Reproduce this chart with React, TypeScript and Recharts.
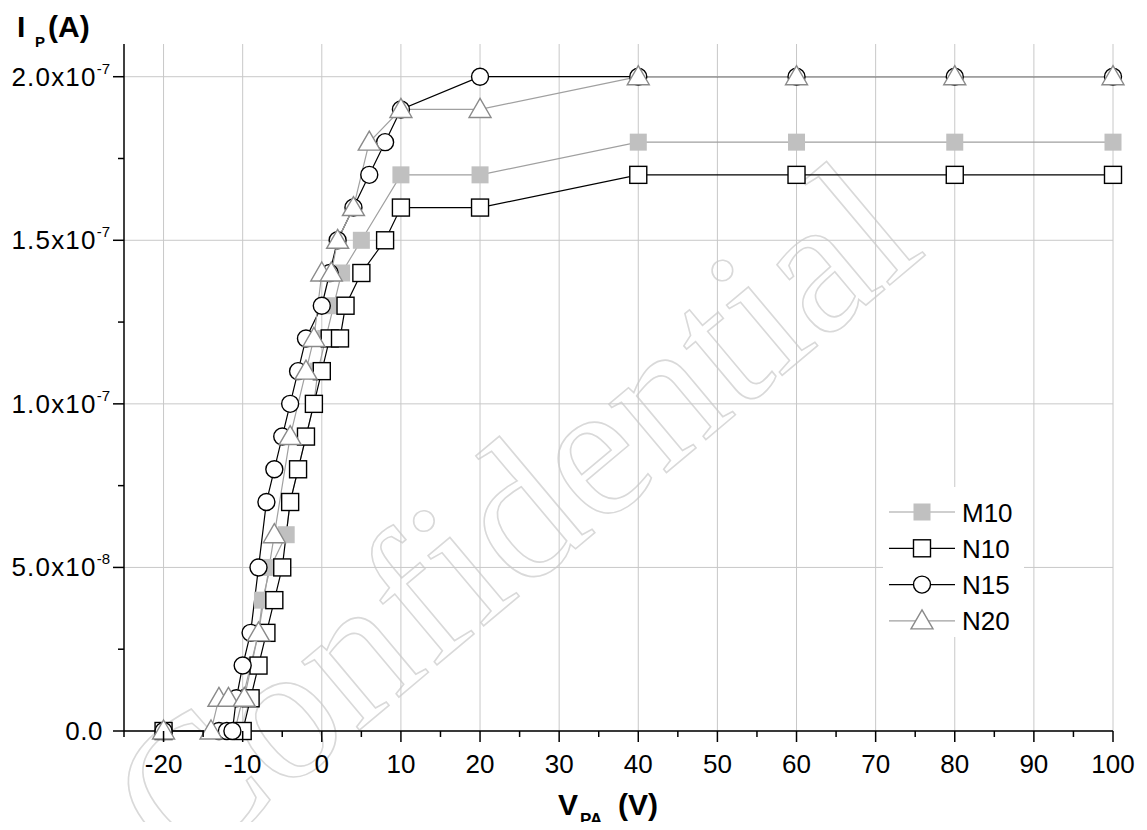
import React from 'react';
import { LineChart, Line, XAxis, YAxis, CartesianGrid } from 'recharts';

// ---- data (x in V, y in A) ----
const m10X = [-20, -11, -10, -9, -8, -7.5, -6.5, -4.5, -4, -3, -2, -1, -0.5, 0.5, 1.5, 2.5, 5, 10, 20, 40, 60, 80, 100];
const m10Y = [0, 0, 1e-8, 2e-8, 3e-8, 4e-8, 5e-8, 6e-8, 7e-8, 8e-8, 9e-8, 1.0e-7, 1.1e-7, 1.2e-7, 1.3e-7, 1.4e-7, 1.5e-7, 1.7e-7, 1.7e-7, 1.8e-7, 1.8e-7, 1.8e-7, 1.8e-7];

const n10X = [-20, -10, -9, -8, -7, -6, -5, -4, -3, -2, -1, 0, 1, 2.3, 3, 5, 8, 10, 20, 40, 60, 80, 100];
const n10Y = [0, 0, 1e-8, 2e-8, 3e-8, 4e-8, 5e-8, 7e-8, 8e-8, 9e-8, 1.0e-7, 1.1e-7, 1.2e-7, 1.2e-7, 1.3e-7, 1.4e-7, 1.5e-7, 1.6e-7, 1.6e-7, 1.7e-7, 1.7e-7, 1.7e-7, 1.7e-7];

const n15X = [-20, -13, -12, -11.3, -10.8, -10, -9, -8, -7, -6, -5, -4, -3, -2, 0, 1, 2, 4, 6, 8, 10, 20, 40, 60, 80, 100];
const n15Y = [0, 0, 0, 0, 1e-8, 2e-8, 3e-8, 5e-8, 7e-8, 8e-8, 9e-8, 1.0e-7, 1.1e-7, 1.2e-7, 1.3e-7, 1.4e-7, 1.5e-7, 1.6e-7, 1.7e-7, 1.8e-7, 1.9e-7, 2.0e-7, 2.0e-7, 2.0e-7, 2.0e-7, 2.0e-7];

const n20X = [-20, -14, -13, -11.8, -9.8, -8, -6, -4, -2, -1, 0, 1.2, 2, 4, 6, 10, 20, 40, 60, 80, 100];
const n20Y = [0, 0, 1e-8, 1e-8, 1e-8, 3e-8, 6e-8, 9e-8, 1.1e-7, 1.2e-7, 1.4e-7, 1.4e-7, 1.5e-7, 1.6e-7, 1.8e-7, 1.9e-7, 1.9e-7, 2.0e-7, 2.0e-7, 2.0e-7, 2.0e-7];

const xTicks = [-25, -20, -15, -10, -5, 0, 5, 10, 15, 20, 25, 30, 35, 40, 45, 50, 55, 60, 65, 70, 75, 80, 85, 90, 95, 100];
const xMajor = [-20, -10, 0, 10, 20, 30, 40, 50, 60, 70, 80, 90, 100];
const yTicks = [0, 2.5e-8, 5e-8, 7.5e-8, 1e-7, 1.25e-7, 1.5e-7, 1.75e-7, 2e-7];
const yMajor = [0, 5e-8, 1e-7, 1.5e-7, 2e-7];
const yMantissa = ['0.0', '5.0x10', '1.0x10', '1.5x10', '2.0x10'];
const yExponent = ['', '-8', '-7', '-7', '-7'];

const legendNames = ['M10', 'N10', 'N15', 'N20'];

const toPts = (xs: number[], ys: number[]) => xs.map((x, i) => ({ x, y: ys[i] }));
const m10 = toPts(m10X, m10Y);
const n10 = toPts(n10X, n10Y);
const n15 = toPts(n15X, n15Y);
const n20 = toPts(n20X, n20Y);

const FONT = '"Liberation Sans", Arial, Helvetica, sans-serif';
const W = 1131;
const H = 814;
const GRAY_LINE = '#a0a0a0';
const GRAY_FILL = '#c0c0c0';
const TRI_STROKE = '#8a8a8a';

const isMajor = (arr: number[], v: number) => arr.some((m) => Math.abs(m - v) < 1e-12);

// ---- marker shapes ----
const FilledSquare = ({ cx, cy }: { cx: number; cy: number }) => (
  <rect x={cx - 8.5} y={cy - 8.5} width={17} height={17} fill={GRAY_FILL} stroke="none" />
);
const OpenSquare = ({ cx, cy }: { cx: number; cy: number }) => (
  <rect x={cx - 8.5} y={cy - 8.5} width={17} height={17} fill="#fff" stroke="#000" strokeWidth={1.4} />
);
const OpenCircle = ({ cx, cy }: { cx: number; cy: number }) => (
  <circle cx={cx} cy={cy} r={8.5} fill="#fff" stroke="#000" strokeWidth={1.4} />
);
const OpenTriangle = ({ cx, cy }: { cx: number; cy: number }) => (
  <path d={`M${cx},${cy - 11} L${cx + 11},${cy + 8} L${cx - 11},${cy + 8} Z`} fill="#fff" stroke={TRI_STROKE} strokeWidth={1.4} />
);

const dotFn = (Shape: any) => (props: any) => {
  const { cx, cy, index } = props;
  if (cx == null || cy == null) return <g key={`d${index}`} />;
  return (
    <g key={`d${index}`}>
      <Shape cx={cx} cy={cy} />
    </g>
  );
};

// ---- axis ticks ----
const BottomTick = (props: any) => {
  const { x, y, payload } = props;
  const v = payload.value;
  const major = isMajor(xMajor, v);
  return (
    <g>
      <line x1={x} y1={y} x2={x} y2={y + (major ? 11 : 6)} stroke="#000" strokeWidth={1.5} />
      {major && (
        <text x={x} y={y + 42} textAnchor="middle" fontSize={26} fontFamily={FONT} fill="#000">
          {v}
        </text>
      )}
    </g>
  );
};

const TopTick = (props: any) => {
  const { x, y, payload } = props;
  const major = isMajor(xMajor, payload.value);
  return <line x1={x} y1={y} x2={x} y2={y + (major ? 11 : 6)} stroke="#000" strokeWidth={1.5} />;
};

const LeftTick = (props: any) => {
  const { x, y, payload } = props;
  const v = payload.value;
  const idx = yMajor.findIndex((m) => Math.abs(m - v) < 1e-12);
  const major = idx >= 0;
  return (
    <g>
      <line x1={x} y1={y} x2={x - (major ? 11 : 6)} y2={y} stroke="#000" strokeWidth={1.5} />
      {major && (
        <text
          x={yExponent[idx] ? x - 14 : x - 21}
          y={y + 9}
          textAnchor="end"
          fontSize={26}
          fontFamily={FONT}
          fill="#000"
        >
          <tspan letterSpacing={yExponent[idx] ? 1.2 : 0.5}>{yMantissa[idx]}</tspan>
          {yExponent[idx] && (
            <tspan fontSize={15} dy={-12}>
              {yExponent[idx]}
            </tspan>
          )}
        </text>
      )}
    </g>
  );
};

const RightTick = (props: any) => {
  const { x, y, payload } = props;
  const major = isMajor(yMajor, payload.value);
  return <line x1={x} y1={y} x2={x - (major ? 11 : 6)} y2={y} stroke="#000" strokeWidth={1.5} />;
};

const legendShapes = [FilledSquare, OpenSquare, OpenCircle, OpenTriangle];
const legendLineColors = [GRAY_LINE, '#000', '#000', GRAY_LINE];

export default function App() {
  return (
    <div style={{ position: 'relative', width: W, height: H, background: '#fff' }}>
      {/* background: watermark + axis titles */}
      <svg width={W} height={H + 8} style={{ position: 'absolute', left: 0, top: 0, zIndex: 0, overflow: 'visible' }}>
        <text
          x={547}
          y={558}
          transform="rotate(-40 547 558)"
          textAnchor="middle"
          fontFamily='"Liberation Serif", "DejaVu Serif", serif'
          fontSize={195}
          fill="none"
          stroke="#d9d9d9"
          strokeWidth={1.6}
        >
          Confidential
        </text>
        <g fontFamily={FONT} fontWeight="bold" fill="#000">
          <text x={9} y={29} fontSize={30}>I</text>
          <text x={27} y={39} fontSize={15}>P</text>
          <text x={40} y={29} fontSize={30}>(A)</text>
          <text x={550} y={807} fontSize={30}>V</text>
          <text x={572} y={817} fontSize={17}>PA</text>
          <text x={610} y={807} fontSize={30}>(V)</text>
        </g>
      </svg>
      <div style={{ position: 'absolute', left: 0, top: 0, zIndex: 1 }}>
        <LineChart width={W} height={H} margin={{ top: 36, right: 26, bottom: 31, left: 16 }}>
          <CartesianGrid
            xAxisId="b"
            yAxisId="l"
            stroke="#c8c8c8"
            strokeWidth={1}
            verticalValues={xMajor}
            horizontalValues={yMajor}
          />
          <XAxis
            xAxisId="b"
            dataKey="x"
            type="number"
            domain={[-25, 100]}
            ticks={xTicks}
            interval={0}
            height={60}
            tickSize={0}
            tickMargin={0}
            tickLine={false}
            tick={<BottomTick />}
            axisLine={{ stroke: '#000', strokeWidth: 1.5 }}
          />
          <XAxis
            xAxisId="t"
            orientation="top"
            type="number"
            dataKey="x"
            domain={[-25, 100]}
            ticks={xTicks}
            interval={0}
            height={0}
            tickSize={0}
            tickMargin={0}
            tickLine={false}
            tick={<TopTick />}
            axisLine={{ stroke: '#000', strokeWidth: 1.5 }}
            allowDataOverflow
          />
          <YAxis
            yAxisId="l"
            type="number"
            domain={[0, 2.1e-7]}
            ticks={yTicks}
            interval={0}
            width={100}
            tickSize={0}
            tickMargin={0}
            tickLine={false}
            tick={<LeftTick />}
            axisLine={{ stroke: '#000', strokeWidth: 1.5 }}
          />
          <YAxis
            yAxisId="r"
            orientation="right"
            type="number"
            domain={[0, 2.1e-7]}
            ticks={yTicks}
            interval={0}
            width={0}
            tickSize={0}
            tickMargin={0}
            tickLine={false}
            tick={<RightTick />}
            axisLine={{ stroke: '#000', strokeWidth: 1.5 }}
            allowDataOverflow
          />
          <Line data={m10} xAxisId="b" yAxisId="l" dataKey="y" name="M10" stroke={GRAY_LINE} strokeWidth={1.2} dot={dotFn(FilledSquare)} activeDot={false} isAnimationActive={false} />
          <Line data={n10} xAxisId="b" yAxisId="l" dataKey="y" name="N10" stroke="#000" strokeWidth={1.2} dot={dotFn(OpenSquare)} activeDot={false} isAnimationActive={false} />
          <Line data={n15} xAxisId="b" yAxisId="l" dataKey="y" name="N15" stroke="#000" strokeWidth={1.2} dot={dotFn(OpenCircle)} activeDot={false} isAnimationActive={false} />
          <Line data={n20} xAxisId="b" yAxisId="l" dataKey="y" name="N20" stroke={GRAY_LINE} strokeWidth={1.2} dot={dotFn(OpenTriangle)} activeDot={false} isAnimationActive={false} />
        </LineChart>
      </div>
      {/* legend */}
      <svg width={160} height={152} style={{ position: 'absolute', left: 875, top: 479, zIndex: 2 }}>
        <rect x={0} y={0} width={141} height={150} fill="#fff" />
        {legendNames.map((name, i) => {
          const cy = 25 + i * 36.3;
          const Shape = legendShapes[i];
          return (
            <g key={name}>
              <line x1={6} y1={cy} x2={72} y2={cy} stroke={legendLineColors[i]} strokeWidth={1.2} />
              <Shape cx={39} cy={cy} />
              <text x={79} y={cy + 9.5} fontSize={26} fontFamily={FONT} fill="#000">
                {name}
              </text>
            </g>
          );
        })}
      </svg>
    </div>
  );
}
